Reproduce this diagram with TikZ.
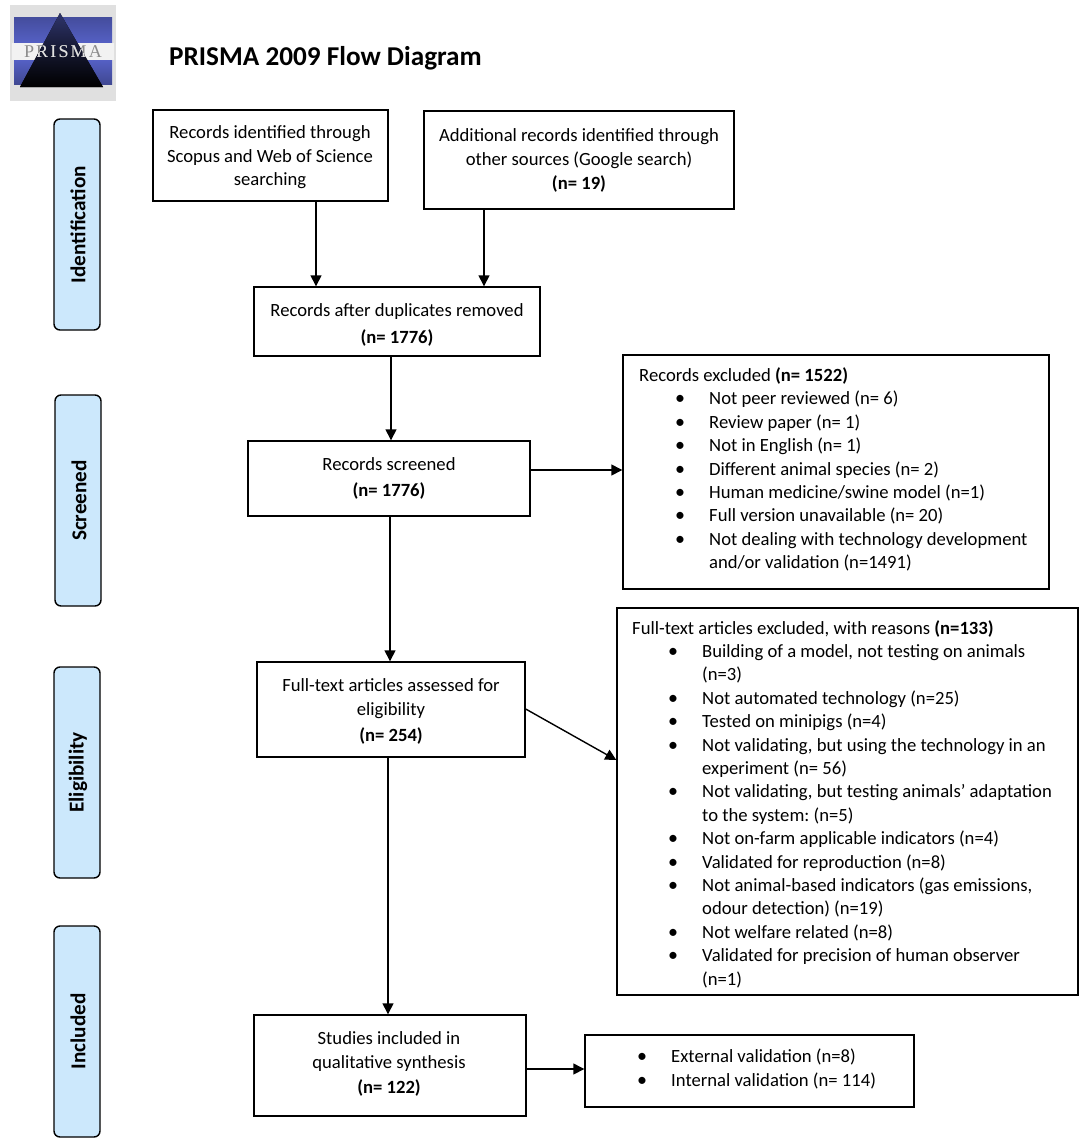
\documentclass[tikz,border=0pt]{standalone}
\usepackage{fontspec}
\setmainfont{Carlito}
\newfontfamily\logofont[LetterSpace=12]{Liberation Serif}
\usetikzlibrary{arrows.meta,calc}
\frenchspacing
\definecolor{sidefill}{HTML}{CCE8FC}
\definecolor{logoblue}{HTML}{5560C4}
\newcommand{\fs}{\fontsize{18.65}{23.4}\selectfont}
\newcommand{\bul}[1]{\hspace*{36pt}\makebox[34pt][l]{\raisebox{0pt}{\fontsize{20}{20}\selectfont\textbullet}}\parbox[t]{#1}}
\tikzset{
  box/.style={draw=black,line width=1.4pt,inner sep=0pt,rectangle},
  side/.style={draw=black,line width=1.4pt,fill=sidefill,rounded corners=6pt,inner sep=0pt},
  sidetext/.style={rotate=90,font=\fontsize{21.2}{24}\selectfont\bfseries,inner sep=0pt},
  body/.style={align=center,font=\fs,inner sep=0pt},
  listtext/.style={align=left,anchor=north west,font=\fs,inner sep=0pt},
  arr/.style={line width=1.4pt,draw=black,-{Triangle[length=11pt,width=11pt]}}
}
\newcommand{\rectnode}[5]{\node[#5,minimum width=#3-#1,minimum height=#4-#2] at ({(#1+#3)/2},{(#2+#4)/2})}
\begin{document}
\begin{tikzpicture}[x=1pt,y=-1pt]
\useasboundingbox (0,0) rectangle (1084,1146);
\fill[white] (0,0) rectangle (1084,1146);
% logo
\fill[black!12] (10,5) rectangle (116,101);
\fill[top color=logoblue!80!black,bottom color=logoblue] (14,17) rectangle (112,43);
\fill[top color=logoblue,bottom color=logoblue!75!black] (14,60) rectangle (112,84);
\fill[black!5] (12,43) rectangle (114,60);
\fill[top color=logoblue!55!black,bottom color=black,middle color=black!75!logoblue] (60,13) -- (103,87) -- (20,87) -- cycle;
\node[font=\fontsize{18}{18}\selectfont\logofont,text=black!45,inner sep=0pt] (logotext) at (63,52) {PRISMA};
\begin{scope}
\clip (60,13) -- (103,87) -- (20,87) -- cycle;
\node[font=\fontsize{18}{18}\selectfont\logofont,text=black!12,inner sep=0pt] (logotexttwo) at (63,52) {PRISMA};
\end{scope}
% title
\node[anchor=west,font=\fontsize{27.2}{30}\selectfont\bfseries,inner sep=0pt] (title) at (169,58) {PRISMA 2009 Flow Diagram};
% side bars
\rectnode{54}{119}{100}{330}{side} (s1) {};
\node[sidetext] at (78,224.5) {Identification};
\rectnode{55}{395}{101}{606}{side} (s2) {};
\node[sidetext] at (79,500.5) {Screened};
\rectnode{54}{667}{100}{878}{side} (s3) {};
\node[sidetext] at (78,772.5) {Eligibility};
\rectnode{54}{926}{100}{1137}{side} (s4) {};
\node[sidetext] at (78,1031.5) {Included};
% boxes
\rectnode{153}{110}{388}{201}{box} (A) {};
\node[body] (At) at (270,157.5) {Records identified through\\Scopus and Web of Science\\searching};
\rectnode{424}{111}{734}{209}{box} (B) {};
\node[body] (Bt) at (579,160.7) {Additional records identified through\\other sources (Google search)\\[1pt]\textbf{(n= 19)}};
\rectnode{254}{287}{540}{356}{box} (C) {};
\node[body] (Ct) at (397,325) {Records after duplicates removed\\[3pt]\textbf{(n= 1776)}};
\rectnode{248}{441}{530}{516}{box} (D) {};
\node[body] (Dt) at (389,478.5) {Records screened\\[3pt]\textbf{(n= 1776)}};
\rectnode{257}{662}{525}{757}{box} (E) {};
\node[body] (Et) at (391,711.5) {Full-text articles assessed for\\eligibility\\[3pt]\textbf{(n= 254)}};
\rectnode{254}{1015}{526}{1116}{box} (F) {};
\node[body] (Ft) at (389,1064) {Studies included in\\qualitative synthesis\\[2pt]\textbf{(n= 122)}};
\rectnode{623}{355}{1049}{589}{box} (X1) {};
\node[listtext] (X1t) at (639,367.5) {\fontsize{18.65}{23.6}\selectfont Records excluded \textbf{(n= 1522)}\\
\bul{340pt}{Not peer reviewed (n= 6)}\\
\bul{340pt}{Review paper (n= 1)}\\
\bul{340pt}{Not in English (n= 1)}\\
\bul{340pt}{Different animal species (n= 2)}\\
\bul{340pt}{Human medicine/swine model (n=1)}\\
\bul{340pt}{Full version unavailable (n= 20)}\\
\bul{340pt}{Not dealing with technology development}\\
\hspace*{70pt}and/or validation (n=1491)};
\rectnode{617}{608}{1078}{995}{box} (X2) {};
\node[listtext] (X2t) at (632,620) {\fontsize{18.65}{23.35}\selectfont Full-text articles excluded, with reasons \textbf{(n=133)}\\
\bul{370pt}{Building of a model, not testing on animals}\\
\hspace*{70pt}(n=3)\\
\bul{370pt}{Not automated technology (n=25)}\\
\bul{370pt}{Tested on minipigs (n=4)}\\
\bul{370pt}{Not validating, but using the technology in an}\\
\hspace*{70pt}experiment (n= 56)\\
\bul{370pt}{Not validating, but testing animals’ adaptation}\\
\hspace*{70pt}to the system: (n=5)\\
\bul{370pt}{Not on-farm applicable indicators (n=4)}\\
\bul{370pt}{Validated for reproduction (n=8)}\\
\bul{370pt}{Not animal-based indicators (gas emissions,}\\
\hspace*{70pt}odour detection) (n=19)\\
\bul{370pt}{Not welfare related (n=8)}\\
\bul{370pt}{Validated for precision of human observer}\\
\hspace*{70pt}(n=1)};
\rectnode{585}{1035}{914}{1107}{box} (X3) {};
\node[listtext] (X3t) at (601,1049) {\fontsize{18.65}{24}\selectfont\bul{220pt}{External validation (n=8)}\\
\bul{220pt}{Internal validation (n= 114)}};
% connectors
\coordinate (xa) at (316,0);
\coordinate (xb) at (484,0);
\coordinate (xc) at (391,0);
\coordinate (xd) at (390,0);
\coordinate (xe) at (388,0);
\coordinate (yd) at (0,470);
\coordinate (yf) at (0,1069);
\coordinate (ye1) at (0,709);
\coordinate (ye2) at (0,760);
\draw[arr] (xa |- A.south) -- (xa |- C.north);
\draw[arr] (xb |- B.south) -- (xb |- C.north);
\draw[arr] (xc |- C.south) -- (xc |- D.north);
\draw[arr] (D.east |- yd) -- (X1.west |- yd);
\draw[arr] (xd |- D.south) -- (xd |- E.north);
\draw[arr] (E.east |- ye1) -- (X2.west |- ye2);
\draw[arr] (xe |- E.south) -- (xe |- F.north);
\draw[arr] (F.east |- yf) -- (X3.west |- yf);
\end{tikzpicture}
\end{document}
